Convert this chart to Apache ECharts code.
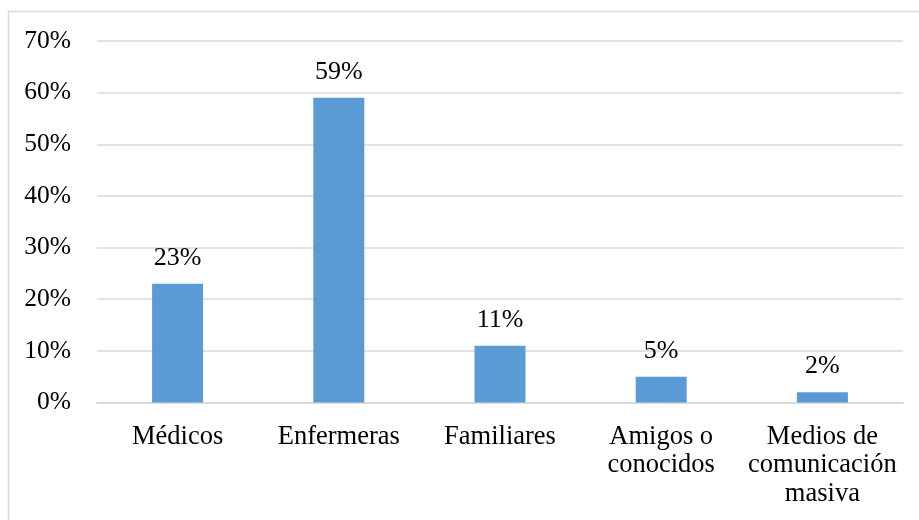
<!DOCTYPE html>
<html>
<head>
<meta charset="utf-8">
<script src="https://cdn.jsdelivr.net/npm/echarts@6/dist/echarts.min.js"></script>
<style>
  html, body { margin: 0; padding: 0; background: #fff; }
  #chart { width: 919px; height: 520px; }
</style>
</head>
<body>
<div id="chart"></div>
<script>
// Fuentes de información (porcentaje de respuestas)
const categories = ['Médicos', 'Enfermeras', 'Familiares', 'Amigos o\nconocidos', 'Medios de\ncomunicación\nmasiva'];
const values = [23, 59, 11, 5, 2];
const yTicks = [0, 10, 20, 30, 40, 50, 60, 70];

const FONT = '"Liberation Serif", "Times New Roman", serif';

const chart = echarts.init(document.getElementById('chart'), null, { renderer: 'canvas' });
chart.setOption({
  animation: false,
  backgroundColor: '#ffffff',
  graphic: [{
    type: 'rect',
    shape: { x: 8.5, y: 11.5, width: 1000, height: 600 },
    style: { fill: 'none', stroke: '#d9d9d9', lineWidth: 1.5 },
    silent: true
  }],
  grid: { left: 97, right: 16, top: 41, bottom: 117.5, containLabel: false },
  xAxis: {
    type: 'category',
    data: categories,
    axisLine: { show: true, lineStyle: { color: '#d9d9d9', width: 1.5 } },
    axisTick: { show: false },
    axisLabel: {
      color: '#000',
      fontFamily: FONT,
      fontSize: 26.5,
      lineHeight: 28.5,
      margin: 20,
      interval: 0,
      align: 'center'
    }
  },
  yAxis: {
    type: 'value',
    min: yTicks[0],
    max: yTicks[yTicks.length - 1],
    interval: 10,
    axisLine: { show: false },
    axisTick: { show: false },
    splitLine: { lineStyle: { color: '#d9d9d9', width: 1.5 } },
    axisLabel: {
      color: '#000',
      fontFamily: FONT,
      fontSize: 25.5,
      margin: 26,
      formatter: v => v + '%'
    }
  },
  series: [{
    type: 'bar',
    data: values,
    barWidth: 51,
    itemStyle: { color: '#5b9bd5' },
    label: {
      show: true,
      position: 'top',
      distance: 13,
      color: '#000',
      fontFamily: FONT,
      fontSize: 26,
      formatter: p => p.value + '%'
    }
  }]
});
</script>
</body>
</html>
